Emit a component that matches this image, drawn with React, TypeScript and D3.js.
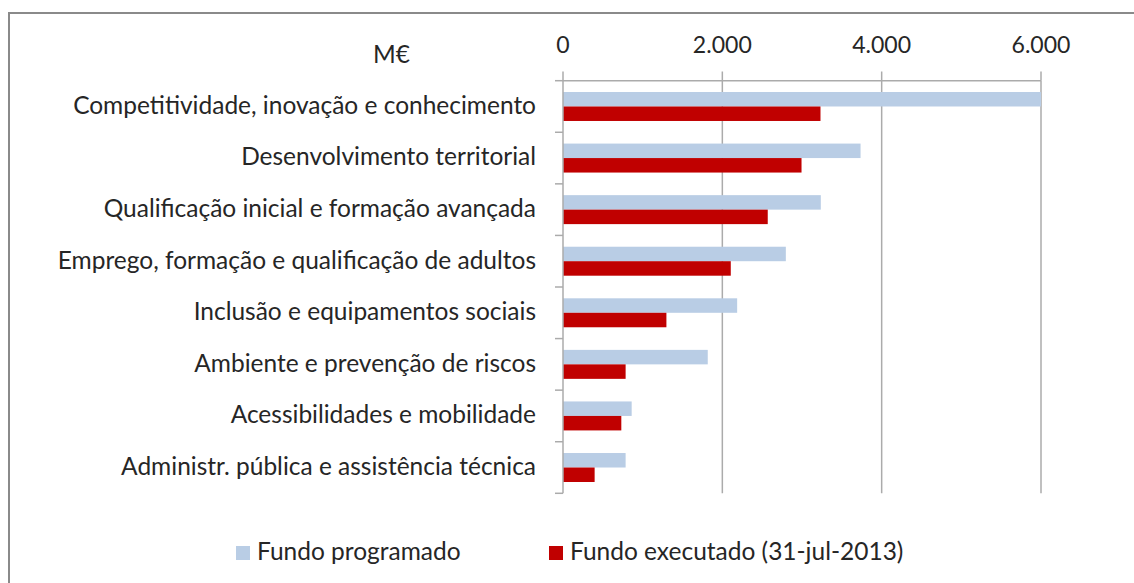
import React, { useEffect, useRef } from 'react';
import * as d3 from 'd3';

// M€ por eixo temático
const categories = [
  'Competitividade, inovação e conhecimento',
  'Desenvolvimento territorial',
  'Qualificação inicial e formação avançada',
  'Emprego, formação e qualificação de adultos',
  'Inclusão e equipamentos sociais',
  'Ambiente e prevenção de riscos',
  'Acessibilidades e mobilidade',
  'Administr. pública e assistência técnica',
];
const programado = [6000, 3735, 3236, 2797, 2186, 1817, 862, 786];
const executado = [3232, 2994, 2570, 2106, 1298, 786, 732, 397];
const seriesNames = ['Fundo programado', 'Fundo executado (31-jul-2013)'];
const seriesColors = ['#B9CDE5', '#C00000'];
const xTicks = [0, 2000, 4000, 6000];

const FONT = 'Lato, "Open Sans", sans-serif';
const TEXT = '#262626';

const App = () => {
  const svgRef = useRef<SVGSVGElement>(null);

  useEffect(() => {
    const width = 1134;
    const height = 583;
    const svg = d3.select(svgRef.current);
    svg.selectAll('*').remove();
    svg.attr('width', width).attr('height', height);

    // chart frame (only top/left visible in the crop)
    svg.append('rect')
      .attr('x', 9).attr('y', 13)
      .attr('width', 1300).attr('height', 800)
      .attr('fill', '#fff')
      .attr('stroke', '#8a8a8a')
      .attr('stroke-width', 2);

    const x = d3.scaleLinear().domain([0, 6000]).range([563, 1041]);
    const y0 = d3.scaleBand<string>().domain(categories).range([80.7, 493.3]).padding(0);
    const y1 = d3.scaleBand<string>()
      .domain(seriesNames)
      .range([0, y0.bandwidth()])
      .paddingInner(0)
      .paddingOuter(0.78);

    const fmt = d3.formatLocale({ decimal: ',', thousands: '.', grouping: [3], currency: ['', '€'] }).format(',d');

    const grid = '#ababab';

    // vertical gridlines
    svg.append('g').selectAll('line')
      .data(xTicks.filter(d => d > 0))
      .enter().append('line')
      .attr('x1', d => x(d)).attr('x2', d => x(d))
      .attr('y1', y0.range()[0]).attr('y2', y0.range()[1])
      .attr('stroke', grid).attr('stroke-width', 1.5);

    // value axis on top
    const xa = svg.append('g');
    xa.append('line')
      .attr('x1', x(0)).attr('x2', x(6000))
      .attr('y1', 80.7).attr('y2', 80.7)
      .attr('stroke', grid).attr('stroke-width', 1.5);
    xa.selectAll('.tick')
      .data(xTicks)
      .enter().append('line')
      .attr('x1', d => x(d)).attr('x2', d => x(d))
      .attr('y1', 71.5).attr('y2', 80.7)
      .attr('stroke', grid).attr('stroke-width', 1.5);
    const tickLabels = xa.selectAll('.lbl')
      .data(xTicks)
      .enter().append('text')
      .attr('x', d => x(d))
      .attr('y', 52.5)
      .attr('text-anchor', 'middle')
      .attr('font-family', FONT)
      .attr('font-size', 22)
      .attr('fill', TEXT)
      .text(d => fmt(d));

    // fit tick label size to "2.000" ~ 59px
    const tn = tickLabels.nodes()[1] as SVGTextElement;
    const tw = tn.getComputedTextLength();
    if (tw > 0) tickLabels.attr('font-size', 22 * 59 / tw);

    // bars
    const bars = svg.append('g');
    categories.forEach((c, i) => {
      const vals = [programado[i], executado[i]];
      vals.forEach((v, j) => {
        bars.append('rect')
          .attr('x', x(0))
          .attr('y', (y0(c) as number) + (y1(seriesNames[j]) as number))
          .attr('width', x(v) - x(0))
          .attr('height', y1.bandwidth())
          .attr('fill', seriesColors[j]);
      });
    });

    // category axis
    const ya = svg.append('g');
    ya.append('line')
      .attr('x1', x(0)).attr('x2', x(0))
      .attr('y1', 80.7).attr('y2', 493.3)
      .attr('stroke', grid).attr('stroke-width', 1.5);
    const bounds = categories.map(c => y0(c) as number).concat([y0.range()[1]]);
    ya.selectAll('.ctick')
      .data(bounds)
      .enter().append('line')
      .attr('x1', x(0) - 8).attr('x2', x(0))
      .attr('y1', d => d).attr('y2', d => d)
      .attr('stroke', grid).attr('stroke-width', 1.5);

    const labels = ya.selectAll('.clbl')
      .data(categories)
      .enter().append('text')
      .attr('x', 536)
      .attr('y', d => (y0(d) as number) + y0.bandwidth() / 2)
      .attr('dy', '0.3em')
      .attr('text-anchor', 'end')
      .attr('font-family', FONT)
      .attr('font-size', 22)
      .attr('fill', TEXT)
      .text(d => d);

    // scale label font so the first label is ~463px wide
    const ln = labels.nodes()[0] as SVGTextElement;
    const lw = ln.getComputedTextLength();
    const labelSize = lw > 0 ? 22 * 463 / lw : 22;
    labels.attr('font-size', labelSize);

    // unit
    svg.append('text')
      .attr('x', 373).attr('y', 63)
      .attr('font-family', FONT)
      .attr('font-size', labelSize)
      .attr('fill', TEXT)
      .text('M€');

    // legend
    const legendX = [236, 549];
    const leg = svg.append('g');
    seriesNames.forEach((s, j) => {
      leg.append('rect')
        .attr('x', legendX[j]).attr('y', 546)
        .attr('width', 14).attr('height', 14)
        .attr('fill', seriesColors[j]);
      leg.append('text')
        .attr('x', legendX[j] + 21).attr('y', 560)
        .attr('font-family', FONT)
        .attr('font-size', labelSize)
        .attr('fill', TEXT)
        .text(s);
    });
  }, []);

  return (
    <svg ref={svgRef} style={{ position: 'absolute', left: 0, top: 0, display: 'block' }}></svg>
  );
};

export default App;
